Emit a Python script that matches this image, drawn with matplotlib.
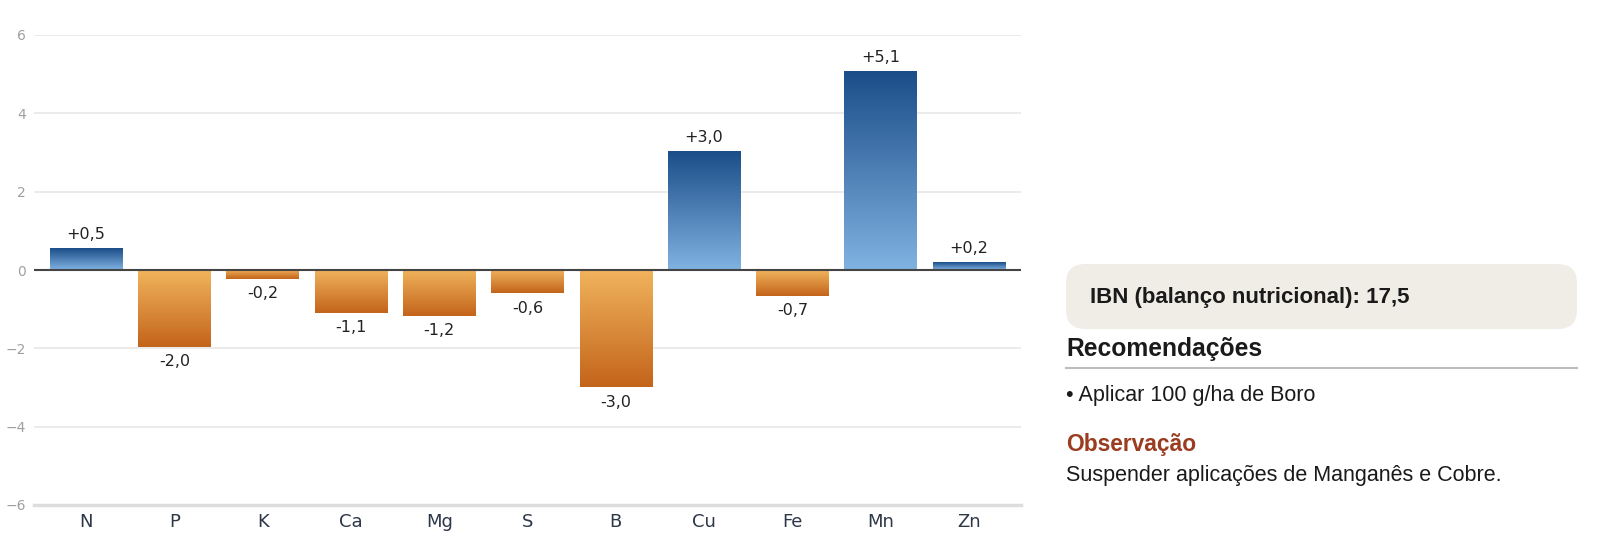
import numpy as np
import matplotlib.pyplot as plt
from matplotlib.colors import LinearSegmentedColormap
from matplotlib.patches import FancyBboxPatch

nutrients = ["N", "P", "K", "Ca", "Mg", "S", "B", "Cu", "Fe", "Mn", "Zn"]
values = [0.54, -1.96, -0.23, -1.1, -1.18, -0.6, -3.0, 3.02, -0.66, 5.06, 0.19]
ibn_text = "IBN (balanço nutricional): 17,5"
recomendacoes = ["Aplicar 100 g/ha de Boro"]
observacao = "Suspender aplicações de Manganês e Cobre."

W, H = 1600, 542
fig = plt.figure(figsize=(W / 100, H / 100), dpi=100)
ax = fig.add_axes([34 / W, 1 - 505 / H, (1021 - 34) / W, (505 - 35) / H])

blue = LinearSegmentedColormap.from_list("b", ["#80b2e2", "#1b4d88"])
orange = LinearSegmentedColormap.from_list("o", ["#f1b45d", "#c3641a"])
grad = np.linspace(0, 1, 256).reshape(-1, 1)
bw = 0.82

for i, v in enumerate(values):
    cmap = blue if v >= 0 else orange
    # gradient: light near zero, dark at the far end
    ax.imshow(grad, cmap=cmap, origin="lower" if v >= 0 else "upper",
              extent=[i - bw / 2, i + bw / 2, min(0, v), max(0, v)],
              aspect="auto", zorder=2, interpolation="bilinear")
    txt = ("+" if v >= 0 else "-") + f"{abs(v):.1f}".replace(".", ",")
    if v >= 0:
        ax.text(i, v + 0.18, txt, ha="center", va="bottom", fontsize=11.5, color="#222222")
    else:
        ax.text(i, v - 0.18, txt, ha="center", va="top", fontsize=11.5, color="#222222")

ax.axhline(0, color="#444444", lw=1.5, zorder=3)
ax.set_xlim(-0.59, len(nutrients) - 0.41)
ax.set_ylim(-6, 6)
ax.set_yticks([-6, -4, -2, 0, 2, 4, 6])
ax.yaxis.grid(True, color="#e8e8e8", lw=1.2, zorder=0)
ax.set_axisbelow(True)
ax.set_xticks(range(len(nutrients)))
ax.set_xticklabels(nutrients)
ax.tick_params(axis="y", length=0, labelsize=10, labelcolor="#a0a0a0", pad=6)
ax.tick_params(axis="x", length=0, labelsize=13, labelcolor="#2d3748", pad=6)
for s in ["top", "left", "right"]:
    ax.spines[s].set_visible(False)
ax.spines["bottom"].set_color("#dddddd")
ax.spines["bottom"].set_linewidth(2.5)

# right side panel
def fx(x):
    return x / W

def fy(y):
    return 1 - y / H

box = FancyBboxPatch((fx(1066), fy(329)), fx(1577) - fx(1066), fy(264) - fy(329),
                     boxstyle="round,pad=0,rounding_size=0.012",
                     transform=fig.transFigure, facecolor="#f0ede6", edgecolor="none",
                     mutation_aspect=W / H)
fig.patches.append(box)
fam = "Liberation Sans"
fig.text(fx(1090), fy(297), ibn_text, fontsize=16, fontweight="bold", family=fam,
         color="#1a1a1a", va="center")
fig.text(fx(1066), fy(349), "Recomendações", fontsize=17.7, fontweight="bold", family=fam,
         color="#1a1a1a", va="center")
fig.add_artist(plt.Line2D([fx(1066), fx(1577)], [fy(368), fy(368)], color="#bdbdbd", lw=1.5,
                          transform=fig.transFigure))
for k, r in enumerate(recomendacoes):
    fig.text(fx(1066), fy(395 + 30 * k), "• " + r, fontsize=15.5, family=fam,
             color="#1a1a1a", va="center")
fig.text(fx(1066), fy(444), "Observação", fontsize=16.4, fontweight="bold", family=fam,
         color="#9b3b1f", va="center")
fig.text(fx(1066), fy(476), observacao, fontsize=15.5, family=fam, color="#1a1a1a", va="center")

fig.savefig("out.png", dpi=100, facecolor="white")
